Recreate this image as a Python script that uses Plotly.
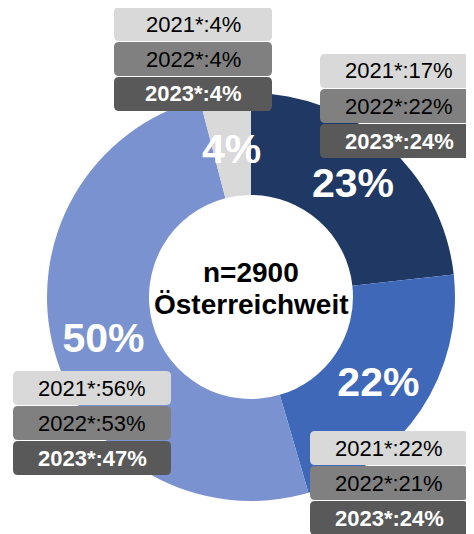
import plotly.graph_objects as go
import math

# ---- data ----
slice_names = ["Anteil A", "Anteil B", "Anteil C", "Anteil D"]
values_now = [23, 22, 50, 4]
years = ["2021*", "2022*", "2023*"]
hist_2021 = [17, 22, 56, 4]
hist_2022 = [22, 21, 53, 4]
hist_2023 = [24, 24, 47, 4]
center_lines = ["n=2900", "Österreichweit"]

slice_colors = ["#203864", "#3F69B8", "#7A92CF", "#D9D9D9"]
box_fill = ["#D9D9D9", "#808080", "#595959"]
box_text = ["black", "black", "white"]

# page body has an 8px margin; figure coordinates = screen - 8
W, H = 466, 526
FONT = "Arial, Liberation Sans, sans-serif"

# pie geometry (px, figure coordinates)
cx, cy, R = 243, 289, 204
HOLE = 0.5

fig = go.Figure(go.Pie(
    labels=slice_names,
    values=values_now,
    sort=False,
    direction="clockwise",
    rotation=0,
    hole=HOLE,
    marker=dict(colors=slice_colors, line=dict(color="white", width=0)),
    texttemplate=[("<b>%{value}%</b>" if v >= 10 else "") for v in values_now],
    textposition="inside",
    insidetextorientation="horizontal",
    textfont=dict(family=FONT, size=41, color="white"),
    showlegend=False,
    hoverinfo="label+value",
    domain=dict(x=[(cx - R) / W, (cx + R) / W],
                y=[(H - cy - R) / H, (H - cy + R) / H]),
))

def px_x(x):
    return x / W

def px_y(y):
    return 1 - y / H

def rrect(x0, y0, x1, y1, r):
    X = lambda v: px_x(v)
    Y = lambda v: px_y(v)
    return (f"M {X(x0 + r)},{Y(y0)} L {X(x1 - r)},{Y(y0)} "
            f"Q {X(x1)},{Y(y0)} {X(x1)},{Y(y0 + r)} "
            f"L {X(x1)},{Y(y1 - r)} Q {X(x1)},{Y(y1)} {X(x1 - r)},{Y(y1)} "
            f"L {X(x0 + r)},{Y(y1)} Q {X(x0)},{Y(y1)} {X(x0)},{Y(y1 - r)} "
            f"L {X(x0)},{Y(y0 + r)} Q {X(x0)},{Y(y0)} {X(x0 + r)},{Y(y0)} Z")

shapes, annotations = [], []

# labels for small slices (too narrow for plotly's inside text): placed at slice mid
total = sum(values_now)
cum = 0
for v in values_now:
    if v < 10:
        ang = math.radians((cum + v / 2) / total * 360)
        rr = R * (1 + HOLE) / 2
        annotations.append(dict(x=px_x(cx + rr * math.sin(ang)), y=px_y(cy - rr * math.cos(ang) + 4),
                                xref="paper", yref="paper", text=f"<b>{v}%</b>", showarrow=False,
                                xanchor="center", yanchor="middle",
                                font=dict(family=FONT, size=41, color="white")))
    cum += v

# box group anchors (top-left px) per slice
box_anchor = [(312, 46), (302, 423), (5, 363), (106, -1)]
box_w, box_h, gap = 158, 34, 1

hist = [hist_2021, hist_2022, hist_2023]
for i in range(len(slice_names)):
    ax, ay = box_anchor[i]
    for j, yr in enumerate(years):
        y0 = ay + j * (box_h + gap)
        y1 = y0 + box_h
        shapes.append(dict(type="path", path=rrect(ax, y0, ax + box_w, y1, 5),
                           xref="paper", yref="paper",
                           fillcolor=box_fill[j], line=dict(width=0), layer="above"))
        txt = f"{yr}:{hist[j][i]}%"
        if j == 2:
            txt = f"<b>{txt}</b>"
        annotations.append(dict(x=px_x(ax + box_w / 2), y=px_y((y0 + y1) / 2),
                                xref="paper", yref="paper", text=txt, showarrow=False,
                                xanchor="center", yanchor="middle",
                                font=dict(family=FONT, size=22, color=box_text[j])))

# centre text, two lines with tighter spacing
line_y = [cy - 25, cy + 7]
for k, line in enumerate(center_lines):
    annotations.append(dict(x=px_x(cx), y=px_y(line_y[k]), xref="paper", yref="paper",
                            text=f"<b>{line}</b>", showarrow=False,
                            xanchor="center", yanchor="middle",
                            font=dict(family=FONT, size=28, color="black")))

fig.update_layout(
    width=W, height=H,
    margin=dict(l=0, r=0, t=0, b=0),
    paper_bgcolor="white", plot_bgcolor="white",
    uniformtext=dict(minsize=41, mode="show"),
    shapes=shapes,
    annotations=annotations,
)

fig.write_html("out.html")
